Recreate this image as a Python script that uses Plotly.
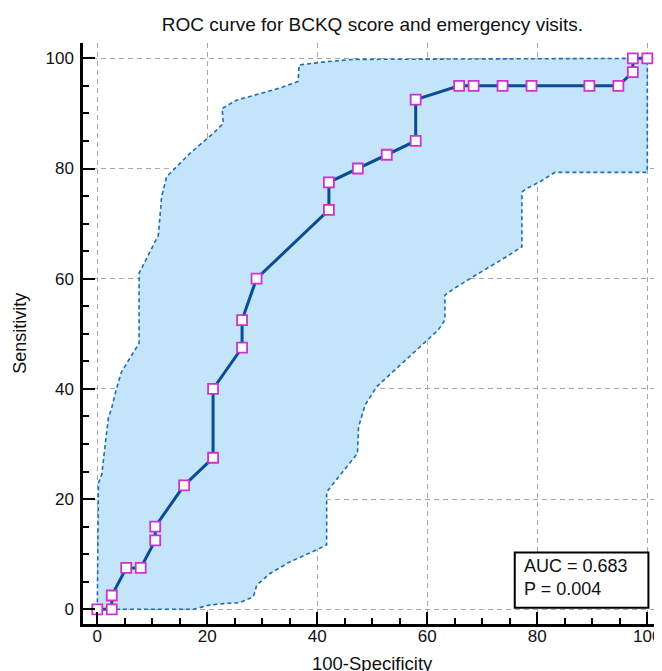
import plotly.graph_objects as go

# ROC curve points (100-Specificity, Sensitivity)
roc_x = [0, 2.63, 2.63, 5.26, 7.89, 10.53, 10.53, 15.79, 21.05, 21.05, 26.32, 26.32,
         28.95, 42.11, 42.11, 47.37, 52.63, 57.89, 57.89, 65.79, 68.42, 73.68, 78.95,
         89.47, 94.74, 97.37, 97.37, 100]
roc_y = [0, 0, 2.5, 7.5, 7.5, 12.5, 15, 22.5, 27.5, 40, 47.5, 52.5,
         60, 72.5, 77.5, 80, 82.5, 85, 92.5, 95, 95, 95, 95,
         95, 95, 97.5, 100, 100]

# Confidence band: upper boundary (left to right)
ci_upper_x = [0, 0.2, 0.8, 2.0, 2.6, 3.5, 4.4, 6.9, 7.6, 7.6, 11.1, 11.7, 12.6, 13.2,
              16.9, 21.1, 22.9, 22.7, 25.3, 33.2, 36.5, 36.7, 41.7, 46.5, 100]
ci_upper_y = [0, 22.9, 24.4, 34.7, 36.5, 40.1, 43.1, 47.1, 48.3, 61.0, 67.9, 74.9, 78.5, 79.1,
              82.8, 86.4, 88.2, 90.9, 92.4, 94.6, 95.8, 98.8, 99.4, 99.8, 100]
# lower boundary (right to left)
ci_lower_x = [100, 99.9, 83.2, 80.5, 78.1, 77.2, 77.2, 74.4, 68.4, 65.0, 63.2, 63.2, 62.0,
              58.1, 50.8, 48.7, 47.5, 47.3, 41.7, 41.7, 39.9, 35.0, 31.4, 29.0, 28.4,
              25.9, 23.8, 20.5, 17.5, 0]
ci_lower_y = [80.3, 79.3, 79.3, 77.6, 76.4, 75.7, 65.8, 64.0, 60.4, 58.3, 57.0, 52.5, 50.7,
              47.1, 40.4, 37.1, 33.1, 28.3, 21.3, 11.7, 10.8, 8.6, 6.5, 4.4, 2.3,
              1.2, 1.1, 0.8, 0, 0]

tick_vals = [0, 20, 40, 60, 80, 100]
tick_text = ["0", "20", "40", "60", "80", "100"]

title_text = "ROC curve for BCKQ score and emergency visits."
x_title = "100-Specificity"
y_title = "Sensitivity"
auc_label = "AUC = 0.683"
p_label = "P = 0.004"

FONT = "Liberation Sans, Arial, sans-serif"

fig = go.Figure()

fig.add_trace(go.Scatter(
    x=ci_upper_x + ci_lower_x,
    y=ci_upper_y + ci_lower_y,
    mode="lines",
    fill="toself",
    fillcolor="#c4e4fa",
    line=dict(color="#1c6db3", width=1.6, dash="4px,3px"),
    hoverinfo="skip",
    showlegend=False,
))

fig.add_trace(go.Scatter(
    x=roc_x, y=roc_y,
    mode="lines+markers",
    line=dict(color="#0b4d93", width=3),
    marker=dict(symbol="square", size=10, color="white",
                line=dict(color="#cc33cc", width=1.8)),
    showlegend=False,
))

axis_common = dict(
    tickvals=tick_vals,
    ticktext=tick_text,
    showgrid=True,
    gridcolor="#a8a8a8",
    gridwidth=1,
    griddash="5px,4px",
    zeroline=False,
    showline=True,
    linecolor="black",
    linewidth=2.5,
    ticks="inside",
    ticklen=12,
    tickwidth=2,
    tickcolor="black",
    minor=dict(dtick=5, tick0=0, ticks="inside", ticklen=6, tickwidth=2,
               tickcolor="black", showgrid=False),
    tickfont=dict(family=FONT, size=17, color="#111"),
    fixedrange=True,
)

fig.update_xaxes(range=[-2.6, 102.67], ticklabelstandoff=-5, **axis_common)
fig.update_yaxes(range=[-2.67, 102.78], ticklabelstandoff=3, **axis_common)

fig.add_shape(type="rect", xref="x", yref="y", x0=75.9, x1=100.2, y0=0.3, y1=10.3,
              line=dict(color="black", width=2), fillcolor="white", layer="above")

fig.add_annotation(xref="x", yref="y", x=77.3, y=5.8, xanchor="left", yanchor="middle",
                   text=auc_label + "<br>" + p_label, align="left", showarrow=False,
                   font=dict(family=FONT, size=18, color="#111"))

fig.add_annotation(xref="paper", yref="paper", x=0.5, y=-0.068, xanchor="center",
                   yanchor="middle", text=x_title, showarrow=False,
                   font=dict(family=FONT, size=18.5, color="#111"))
fig.add_annotation(xref="paper", yref="paper", x=-0.110, y=0.50, xanchor="center",
                   yanchor="middle", text=y_title, textangle=-90, showarrow=False,
                   font=dict(family=FONT, size=18, color="#111"))

# page body adds an 8px offset; figure sized to compensate
fig.update_layout(
    width=654, height=663,
    margin=dict(l=75, r=0, t=35, b=47),
    paper_bgcolor="white",
    plot_bgcolor="white",
    title=dict(text=title_text, x=0.5, xref="paper", xanchor="center",
               y=1 - 16 / 663, yref="container", yanchor="middle",
               font=dict(family=FONT, size=19, color="#111")),
)

fig.write_html("out.html")
